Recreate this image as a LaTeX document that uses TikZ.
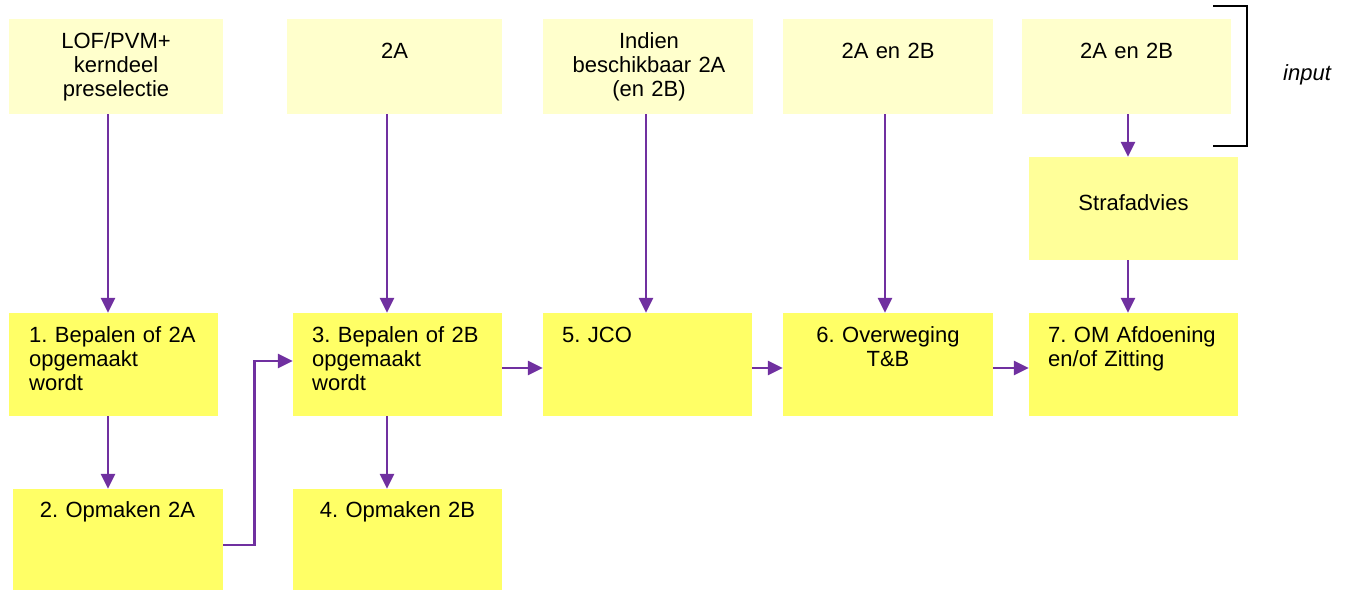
\documentclass[tikz,border=0pt]{standalone}
\usepackage{fontspec}
\setmainfont{Liberation Sans}
\usetikzlibrary{arrows.meta}
\frenchspacing

\definecolor{inputyellow}{HTML}{FFFFCC}
\definecolor{adviceyellow}{HTML}{FFFF99}
\definecolor{stepyellow}{HTML}{FFFF66}
\definecolor{flowpurple}{HTML}{7030A0}

\begin{document}
\begin{tikzpicture}[x = 1pt, y = -1pt, > = {Triangle[length = 15pt, width = 14pt]},
	font = \fontsize{22}{24}\selectfont,
	inbox/.style = {rectangle, fill = inputyellow, inner sep = 0, minimum height = 95pt},
	advbox/.style = {rectangle, fill = adviceyellow, inner sep = 0, minimum width = 209pt, minimum height = 103pt},
	stepbox/.style = {rectangle, fill = stepyellow, inner sep = 0, minimum width = 209pt, minimum height = 103pt},
	midtxt/.style = {text width = 200pt, align = center, inner sep = 0, anchor = base},
	lefttxt/.style = {text width = 185pt, align = left, inner sep = 0, anchor = base west},
	flow/.style = {draw = flowpurple, line width = 2.6pt, ->}]

	% Frame
	
	\path [use as bounding box, clip] (0, 0) rectangle (1348, 589);

	% Input boxes
	
	\node [inbox, minimum width = 214pt] (lof) at (116, 66.5) {};
	\node [inbox, minimum width = 215pt] (in2a) at (394.5, 66.5) {};
	\node [inbox, minimum width = 210pt] (indien) at (648, 66.5) {};
	\node [inbox, minimum width = 210pt] (in2ab) at (888, 66.5) {};
	\node [inbox, minimum width = 209pt] (in2abx) at (1126.5, 66.5) {};
	\node [advbox] (straf) at (1133.5, 208.5) {};
	
	% Step boxes
	
	\node [stepbox] (bep2a) at (113.5, 364.5) {};
	\node [stepbox] (bep2b) at (397.5, 364.5) {};
	\node [stepbox] (jco) at (647.5, 364.5) {};
	\node [stepbox, minimum width = 210pt] (overw) at (888, 364.5) {};
	\node [stepbox] (afd) at (1133.5, 364.5) {};
	\node [stepbox, minimum width = 210pt, minimum height = 112pt] (op2a) at (118, 545) {};
	\node [stepbox, minimum height = 112pt] (op2b) at (397.5, 545) {};
	
	% Box texts
	
	\node [midtxt] (lof-t) at (116, 48) {LOF/PVM+\\kerndeel\\preselectie};
	\node [midtxt] (in2a-t) at (394.5, 58) {2A};
	\node [midtxt] (indien-t) at (649, 48) {Indien\\beschikbaar 2A\\(en 2B)};
	\node [midtxt] (in2ab-t) at (888, 58) {2A en 2B};
	\node [midtxt] (in2abx-t) at (1126.5, 58) {2A en 2B};
	\node [midtxt] (straf-t) at (1133.5, 210) {Strafadvies};
	\node [lefttxt] (bep2a-t) at (29, 342) {1. Bepalen of 2A\\opgemaakt\\wordt};
	\node [lefttxt] (bep2b-t) at (312, 342) {3. Bepalen of 2B\\opgemaakt\\wordt};
	\node [lefttxt] (jco-t) at (562, 342) {5. JCO};
	\node [midtxt] (overw-t) at (888, 342) {6. Overweging\\T\&B};
	\node [lefttxt] (afd-t) at (1048, 342) {7. OM Afdoening\\en/of Zitting};
	\node [midtxt] (op2a-t) at (117.5, 517) {2. Opmaken 2A};
	\node [midtxt] (op2b-t) at (397.5, 517) {4. Opmaken 2B};
	
	% Input bracket
	
	\draw [line width = 2pt] (1213, 6) -| (1247, 146) -- (1213, 146);
	\node [anchor = base west, inner sep = 0, font = \fontsize{22}{24}\selectfont\itshape] (input) at (1283, 80) {input};
	
	% Arrows
	
	\foreach \a/\b/\s in {lof/bep2a/-8, in2a/bep2b/-7.5, indien/jco/-2, in2ab/overw/-3,
		in2abx/straf/1.5, straf/afd/-5.5, bep2a/op2a/-5.5, bep2b/op2b/-10.5}
		\draw [flow] ([xshift = \s] \a.south) -- ([xshift = \s] \a.south |- \b.north);
	
	\foreach \a/\b in {bep2b/jco, jco/overw, overw/afd}
		\draw [flow] ([yshift = -3.5pt] \a.east) -- ([yshift = -3.5pt] \b.west);
	
	\draw [flow] (op2a.east) -- ++(31, 0) |- ([yshift = 3.5pt] bep2b.west);

\end{tikzpicture}
\end{document}
